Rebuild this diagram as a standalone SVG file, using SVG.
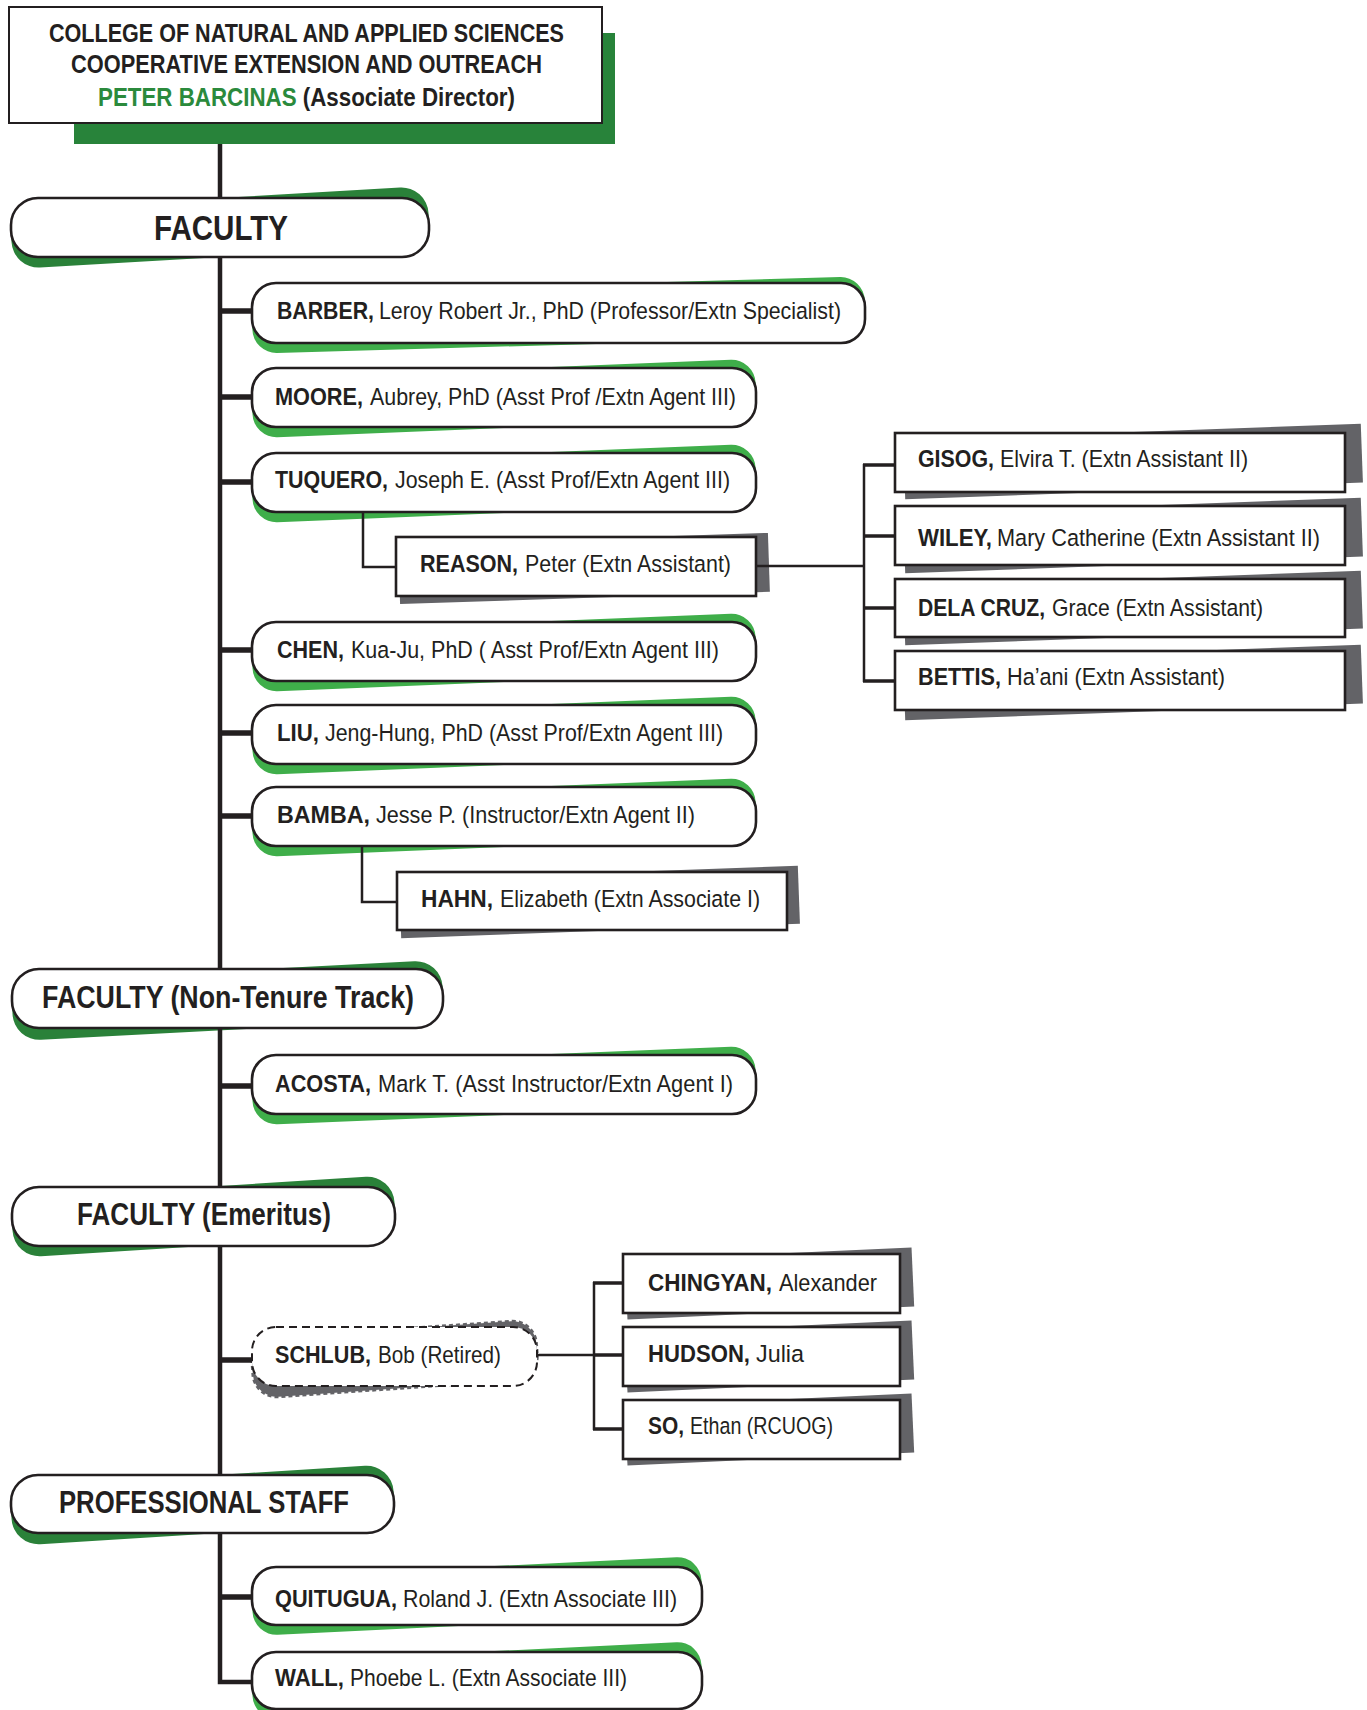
<svg xmlns="http://www.w3.org/2000/svg" width="1367" height="1710" viewBox="0 0 1367 1710">
<style>
.t{font-family:'Liberation Sans Narrow','Liberation Sans',Arial,sans-serif;fill:#231f20}
.b{font-weight:700}
.r{font-weight:400}
.m{font-size:24.5px}
.h{font-size:30.5px}
.hd{font-size:25.5px;font-weight:700}
.green{fill:#2b8a3c}
.pill{fill:#fff;stroke:#231f20;stroke-width:2.6}
.box{fill:#fff;stroke:#231f20;stroke-width:2.6}
.gs{fill:#3fae4a}
.hs{fill:#2a8139}
.ks{fill:#636367}
.ln{fill:none;stroke:#231f20;stroke-linejoin:miter;stroke-linecap:butt}
</style>
<rect width="1367" height="1710" fill="#fff"/>

<g id="header">
<rect x="74" y="33" width="541" height="111" fill="#28833a"/>
<rect x="9" y="7" width="593" height="116" fill="#fff" stroke="#231f20" stroke-width="2"/>
<text class="t hd" x="49" y="42" textLength="515" lengthAdjust="spacingAndGlyphs">COLLEGE OF NATURAL AND APPLIED SCIENCES</text>
<text class="t hd" x="71" y="73" textLength="471" lengthAdjust="spacingAndGlyphs">COOPERATIVE EXTENSION AND OUTREACH</text>
<text class="t hd" x="98" y="106" textLength="417" lengthAdjust="spacingAndGlyphs"><tspan class="green">PETER BARCINAS</tspan> (Associate Director)</text>
</g>

<g id="faculty">
<rect class="hs" x="11" y="198" width="418" height="59" rx="27" transform="rotate(-3.3 220 227.5)"/>
<rect class="pill" x="11" y="198" width="418" height="59" rx="27"/>
<text class="t b" style="font-size:35px" x="154" y="240" textLength="134" lengthAdjust="spacingAndGlyphs">FACULTY</text>
</g>

<g id="barber">
<rect class="gs" x="252" y="283" width="613" height="60" rx="24" transform="rotate(-1.6 558.5 313) translate(0 2)"/>
<rect class="pill" x="252" y="283" width="613" height="60" rx="24"/>
<text class="t b m" x="277" y="319" textLength="97" lengthAdjust="spacingAndGlyphs">BARBER,</text>
<text class="t r m" x="379" y="319" textLength="462" lengthAdjust="spacingAndGlyphs">Leroy Robert Jr., PhD (Professor/Extn Specialist)</text>
</g>

<g id="moore">
<rect class="gs" x="252" y="368" width="504" height="59" rx="24" transform="rotate(-2.3 504 397.5) translate(0 1)"/>
<rect class="pill" x="252" y="368" width="504" height="59" rx="24"/>
<text class="t b m" x="275" y="405" textLength="88" lengthAdjust="spacingAndGlyphs">MOORE,</text>
<text class="t r m" x="370" y="405" textLength="366" lengthAdjust="spacingAndGlyphs">Aubrey, PhD (Asst Prof /Extn Agent III)</text>
</g>

<g id="tuquero">
<rect class="gs" x="252" y="453" width="504" height="59" rx="24" transform="rotate(-2.3 504 482.5) translate(0 1)"/>
<rect class="pill" x="252" y="453" width="504" height="59" rx="24"/>
<text class="t b m" x="275" y="488" textLength="113" lengthAdjust="spacingAndGlyphs">TUQUERO,</text>
<text class="t r m" x="395" y="488" textLength="335" lengthAdjust="spacingAndGlyphs">Joseph E. (Asst Prof/Extn Agent III)</text>
</g>

<g id="reason">
<rect class="ks" x="399" y="539" width="370" height="59" transform="rotate(-1.9 584 568.5)"/>
<rect class="box" x="396" y="537" width="360" height="59"/>
<text class="t b m" x="420" y="572" textLength="98" lengthAdjust="spacingAndGlyphs">REASON,</text>
<text class="t r m" x="525" y="572" textLength="206" lengthAdjust="spacingAndGlyphs">Peter (Extn Assistant)</text>
</g>

<g id="gisog">
<rect class="ks" x="904" y="432" width="458" height="59" transform="rotate(-2.1 1133 461.5)"/>
<rect class="box" x="895" y="433" width="450" height="59"/>
<text class="t b m" x="918" y="467" textLength="76" lengthAdjust="spacingAndGlyphs">GISOG,</text>
<text class="t r m" x="1000" y="467" textLength="248" lengthAdjust="spacingAndGlyphs">Elvira T. (Extn Assistant II)</text>
</g>

<g id="wiley">
<rect class="ks" x="904" y="506" width="458" height="59" transform="rotate(-2.1 1133 535.5)"/>
<rect class="box" x="895" y="506" width="450" height="59"/>
<text class="t b m" x="918" y="546" textLength="74" lengthAdjust="spacingAndGlyphs">WILEY,</text>
<text class="t r m" x="997" y="546" textLength="323" lengthAdjust="spacingAndGlyphs">Mary Catherine (Extn Assistant II)</text>
</g>

<g id="delacruz">
<rect class="ks" x="904" y="579" width="458" height="58" transform="rotate(-2.1 1133 608)"/>
<rect class="box" x="895" y="579" width="450" height="58"/>
<text class="t b m" x="918" y="616" textLength="127" lengthAdjust="spacingAndGlyphs">DELA CRUZ,</text>
<text class="t r m" x="1052" y="616" textLength="211" lengthAdjust="spacingAndGlyphs">Grace (Extn Assistant)</text>
</g>

<g id="bettis">
<rect class="ks" x="904" y="653" width="458" height="59" transform="rotate(-2.1 1133 682.5)"/>
<rect class="box" x="895" y="651" width="450" height="59"/>
<text class="t b m" x="918" y="685" textLength="83" lengthAdjust="spacingAndGlyphs">BETTIS,</text>
<text class="t r m" x="1007" y="685" textLength="218" lengthAdjust="spacingAndGlyphs">Ha’ani (Extn Assistant)</text>
</g>

<g id="chen">
<rect class="gs" x="252" y="622" width="504" height="59" rx="24" transform="rotate(-2.3 504 651.5) translate(0 1)"/>
<rect class="pill" x="252" y="622" width="504" height="59" rx="24"/>
<text class="t b m" x="277" y="658" textLength="67" lengthAdjust="spacingAndGlyphs">CHEN,</text>
<text class="t r m" x="351" y="658" textLength="368" lengthAdjust="spacingAndGlyphs">Kua-Ju, PhD ( Asst Prof/Extn Agent III)</text>
</g>

<g id="liu">
<rect class="gs" x="252" y="705" width="504" height="59" rx="24" transform="rotate(-2.3 504 734.5) translate(0 1)"/>
<rect class="pill" x="252" y="705" width="504" height="59" rx="24"/>
<text class="t b m" x="277" y="741" textLength="42" lengthAdjust="spacingAndGlyphs">LIU,</text>
<text class="t r m" x="325" y="741" textLength="398" lengthAdjust="spacingAndGlyphs">Jeng-Hung, PhD (Asst Prof/Extn Agent III)</text>
</g>

<g id="bamba">
<rect class="gs" x="252" y="787" width="504" height="59" rx="24" transform="rotate(-2.3 504 816.5) translate(0 1)"/>
<rect class="pill" x="252" y="787" width="504" height="59" rx="24"/>
<text class="t b m" x="277" y="823" textLength="93" lengthAdjust="spacingAndGlyphs">BAMBA,</text>
<text class="t r m" x="376" y="823" textLength="319" lengthAdjust="spacingAndGlyphs">Jesse P. (Instructor/Extn Agent II)</text>
</g>

<g id="hahn">
<rect class="ks" x="400" y="873" width="399" height="58" transform="rotate(-2.1 599.5 902)"/>
<rect class="box" x="397" y="872" width="390" height="58"/>
<text class="t b m" x="421" y="907" textLength="72" lengthAdjust="spacingAndGlyphs">HAHN,</text>
<text class="t r m" x="500" y="907" textLength="260" lengthAdjust="spacingAndGlyphs">Elizabeth (Extn Associate I)</text>
</g>

<g id="faculty-nontenure">
<rect class="hs" x="12" y="969" width="431" height="59" rx="27" transform="rotate(-3 227.5 998.5) translate(0 2)"/>
<rect class="pill" x="12" y="969" width="431" height="59" rx="27"/>
<text class="t b h" x="42" y="1008" textLength="372" lengthAdjust="spacingAndGlyphs">FACULTY (Non-Tenure Track)</text>
</g>

<g id="acosta">
<rect class="gs" x="252" y="1055" width="504" height="59" rx="24" transform="rotate(-2.3 504 1084.5) translate(0 1)"/>
<rect class="pill" x="252" y="1055" width="504" height="59" rx="24"/>
<text class="t b m" x="275" y="1092" textLength="96" lengthAdjust="spacingAndGlyphs">ACOSTA,</text>
<text class="t r m" x="378" y="1092" textLength="355" lengthAdjust="spacingAndGlyphs">Mark T. (Asst Instructor/Extn Agent I)</text>
</g>

<g id="faculty-emeritus">
<rect class="hs" x="12" y="1187" width="383" height="59" rx="27" transform="rotate(-3.6 203.5 1216.5)"/>
<rect class="pill" x="12" y="1187" width="383" height="59" rx="27"/>
<text class="t b h" x="77" y="1225" textLength="254" lengthAdjust="spacingAndGlyphs">FACULTY (Emeritus)</text>
</g>

<g id="schlub">
<rect class="ks" x="252" y="1327" width="285" height="59" rx="24" stroke="#636367" stroke-width="3" stroke-dasharray="4 3" transform="rotate(-4 394.5 1356.5) translate(0 2.5)"/>
<rect x="252" y="1327" width="285" height="59" rx="24" fill="#fff" stroke="#231f20" stroke-width="2" stroke-dasharray="8 5"/>
<text class="t b m" x="275" y="1363" textLength="96" lengthAdjust="spacingAndGlyphs">SCHLUB,</text>
<text class="t r m" x="378" y="1363" textLength="123" lengthAdjust="spacingAndGlyphs">Bob (Retired)</text>
</g>

<g id="chingyan">
<rect class="ks" x="626" y="1254" width="287" height="59" transform="rotate(-2.6 769.5 1283.5)"/>
<rect class="box" x="623" y="1254" width="277" height="59"/>
<text class="t b m" x="648" y="1291" textLength="124" lengthAdjust="spacingAndGlyphs">CHINGYAN,</text>
<text class="t r m" x="779" y="1291" textLength="98" lengthAdjust="spacingAndGlyphs">Alexander</text>
</g>

<g id="hudson">
<rect class="ks" x="626" y="1327" width="287" height="59" transform="rotate(-2.6 769.5 1356.5)"/>
<rect class="box" x="623" y="1327" width="277" height="59"/>
<text class="t b m" x="648" y="1362" textLength="102" lengthAdjust="spacingAndGlyphs">HUDSON,</text>
<text class="t r m" x="756" y="1362" textLength="48" lengthAdjust="spacingAndGlyphs">Julia</text>
</g>

<g id="so">
<rect class="ks" x="626" y="1400" width="287" height="59" transform="rotate(-2.6 769.5 1429.5)"/>
<rect class="box" x="623" y="1400" width="277" height="59"/>
<text class="t b m" x="648" y="1434" textLength="36" lengthAdjust="spacingAndGlyphs">SO,</text>
<text class="t r m" x="690" y="1434" textLength="143" lengthAdjust="spacingAndGlyphs">Ethan (RCUOG)</text>
</g>

<g id="professional-staff">
<rect class="hs" x="11" y="1475" width="383" height="58" rx="27" transform="rotate(-3.6 202.5 1504) translate(0 1)"/>
<rect class="pill" x="11" y="1475" width="383" height="58" rx="27"/>
<text class="t b h" x="59" y="1513" textLength="290" lengthAdjust="spacingAndGlyphs">PROFESSIONAL STAFF</text>
</g>

<g id="quitugua">
<rect class="gs" x="252" y="1567" width="450" height="58" rx="24" transform="rotate(-2.8 477 1596)"/>
<rect class="pill" x="252" y="1567" width="450" height="58" rx="24"/>
<text class="t b m" x="275" y="1607" textLength="122" lengthAdjust="spacingAndGlyphs">QUITUGUA,</text>
<text class="t r m" x="403" y="1607" textLength="274" lengthAdjust="spacingAndGlyphs">Roland J. (Extn Associate III)</text>
</g>

<g id="wall">
<rect class="gs" x="252" y="1652" width="450" height="57" rx="24" transform="rotate(-2.8 477 1680.5)"/>
<rect class="pill" x="252" y="1652" width="450" height="57" rx="24"/>
<text class="t b m" x="275" y="1686" textLength="69" lengthAdjust="spacingAndGlyphs">WALL,</text>
<text class="t r m" x="350" y="1686" textLength="277" lengthAdjust="spacingAndGlyphs">Phoebe L. (Extn Associate III)</text>
</g>

<g id="connectors">
<path class="ln" stroke-width="4.5" d="M220 144 V198 M220 257 V969 M220 1028 V1187 M220 1246 V1475 M220 1533 V1682 H252"/>
<path class="ln" stroke-width="5.5" d="M220 311 H252 M220 397 H252 M220 482 H252 M220 650 H252 M220 733 H252 M220 816 H252 M220 1086 H252 M220 1360 H252 M220 1597 H252"/>
<path class="ln" stroke-width="2.5" d="M363 513 V567 H396 M362 847 V902 H397 M756 566 H864 M864 464 V682 M537 1355 H594 M594 1282 V1430"/>
<path class="ln" stroke-width="3.5" d="M863 465 H895 M863 536 H895 M863 608 H895 M863 681 H895 M593 1283 H623 M593 1355 H623 M593 1429 H623"/>
</g>
</svg>
